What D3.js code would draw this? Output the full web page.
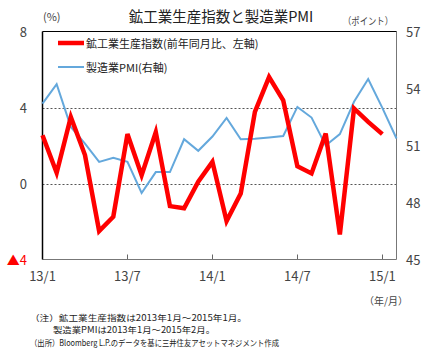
<!DOCTYPE html>
<html><head><meta charset="utf-8">
<script src="https://cdn.jsdelivr.net/npm/d3@7"></script>
<style>body{margin:0;background:#fff}svg{display:block}text{font-family:"Noto Sans CJK JP","Noto Sans",sans-serif}</style>
</head><body>
<svg id="c" width="426" height="356"></svg>
<script>
// Data: month index 0 = 2013/1
const ipValues = [2.54,0.56,3.5,1.5,-2.5,-1.75,2.6,0.44,2.7,-1.19,-1.3,0.09,1.14,-1.98,-0.53,3.77,5.6,4.38,0.91,0.53,2.63,-2.68,3.95,3.24,2.6];
const pmiValues = [53.2,54.23,51.98,51.1,50.14,50.35,50.14,48.5,49.6,49.6,51.33,50.72,51.47,52.45,51.33,51.35,51.42,51.5,53.03,52.47,51.0,51.6,53.3,54.5,52.98,51.37];
const xTickMonths = [0,6,12,18,24];
const xTickLabels = ["13/1","13/7","14/1","14/7","15/1"];
const leftTicks = [8,4,0,-4];
const leftTickLabels = ["8","4","0","▲4"];
const rightTicks = [57,54,51,48,45];
const gridValues = [4,0];

const svg = d3.select("#c");
const L=42.5,R=396.5,T=31.5,B=259.5;
const x = d3.scaleLinear().domain([0,25]).range([L,R]);
const yL = d3.scaleLinear().domain([-4,8]).range([B,T]);
const yR = d3.scaleLinear().domain([45,57]).range([B,T]);
const txt="#444";

// title
svg.append("text").attr("x",221).attr("y",15).attr("text-anchor","middle").attr("dominant-baseline","central")
  .attr("font-size",14.5).attr("fill","#222").text("鉱工業生産指数と製造業PMI");
svg.append("text").attr("x",43).attr("y",16).attr("dominant-baseline","central").attr("font-size",11).attr("fill",txt).text("(%)");
svg.append("text").attr("x",343).attr("y",20).attr("dominant-baseline","central").attr("font-size",10).attr("fill",txt)
  .attr("textLength",50).attr("lengthAdjust","spacingAndGlyphs").text("（ポイント）");

// grid
svg.selectAll("line.grid").data(gridValues).enter().append("line")
  .attr("x1",L).attr("x2",R).attr("y1",d=>Math.round(yL(d))+0.5).attr("y2",d=>Math.round(yL(d))+0.5)
  .attr("stroke","#555").attr("stroke-dasharray","2,2").attr("stroke-width",1);

// x ticks (inward)
svg.selectAll("line.xt").data(xTickMonths.filter(m=>m>0)).enter().append("line")
  .attr("x1",d=>Math.round(x(d))+0.5).attr("x2",d=>Math.round(x(d))+0.5).attr("y1",B).attr("y2",B-5)
  .attr("stroke","#666");
svg.selectAll("text.xl").data(xTickMonths).enter().append("text")
  .attr("x",d=>x(d)).attr("y",275).attr("text-anchor","middle").attr("dominant-baseline","central")
  .attr("font-size",13).attr("fill",txt).text((d,i)=>xTickLabels[i]);
svg.append("text").attr("x",386).attr("y",300).attr("text-anchor","middle").attr("dominant-baseline","central")
  .attr("font-size",10).attr("fill",txt).text("（年/月）");

// left labels
svg.selectAll("text.yl").data(leftTicks).enter().append("text")
  .attr("x",27).attr("y",d=>yL(d)).attr("text-anchor","end").attr("dominant-baseline","central")
  .attr("font-size",13).attr("fill",d=>d<0?"#ff0000":txt).text((d,i)=>leftTickLabels[i]);
// right labels
svg.selectAll("text.yr").data(rightTicks).enter().append("text")
  .attr("x",406).attr("y",d=>yR(d)).attr("dominant-baseline","central")
  .attr("font-size",13).attr("fill",txt).text(d=>d);

// borders
svg.append("line").attr("x1",R).attr("x2",R).attr("y1",T).attr("y2",B).attr("stroke","#777");
svg.append("line").attr("x1",L).attr("x2",R).attr("y1",B).attr("y2",B).attr("stroke","#777");
svg.append("line").attr("x1",L).attr("x2",R).attr("y1",T).attr("y2",T).attr("stroke","#000");
svg.append("line").attr("x1",L).attr("x2",L).attr("y1",T).attr("y2",B).attr("stroke","#000").attr("stroke-width",1.5);

// lines
const pmiLine = d3.line().x((d,i)=>x(i)).y(d=>yR(d));
const ipLine = d3.line().x((d,i)=>x(i)).y(d=>yL(d));
svg.append("path").datum(pmiValues).attr("d",pmiLine).attr("fill","none").attr("stroke","#64a8dc").attr("stroke-width",2);
svg.append("path").datum(ipValues).attr("d",ipLine).attr("fill","none").attr("stroke","#ff0000").attr("stroke-width",4.5).attr("stroke-linejoin","miter");

// legend
const leg=[{t:"鉱工業生産指数(前年同月比、左軸)",c:"#ff0000",w:4.5,y:43},{t:"製造業PMI(右軸)",c:"#64a8dc",w:2,y:67}];
leg.forEach(l=>{
  svg.append("line").attr("x1",58).attr("x2",84).attr("y1",l.y).attr("y2",l.y).attr("stroke",l.c).attr("stroke-width",l.w);
  svg.append("text").attr("x",86).attr("y",l.y).attr("dominant-baseline","central").attr("font-size",11).attr("fill","#222").text(l.t);
});

// notes
const notes=[{t:"（注）鉱工業生産指数は2013年1月～2015年1月。",x:30,y:316.5,w:217},
  {t:"製造業PMIは2013年1月～2015年2月。",x:53,y:329,w:162},
  {t:"（出所）Bloomberg L.P.のデータを基に三井住友アセットマネジメント作成",x:30,y:341.5,w:249}];
notes.forEach(n=>svg.append("text").attr("x",n.x).attr("y",n.y).attr("dominant-baseline","central").attr("font-size",8.5)
  .attr("fill","#222").attr("textLength",n.w).attr("lengthAdjust","spacingAndGlyphs").text(n.t));
</script>
</body></html>
